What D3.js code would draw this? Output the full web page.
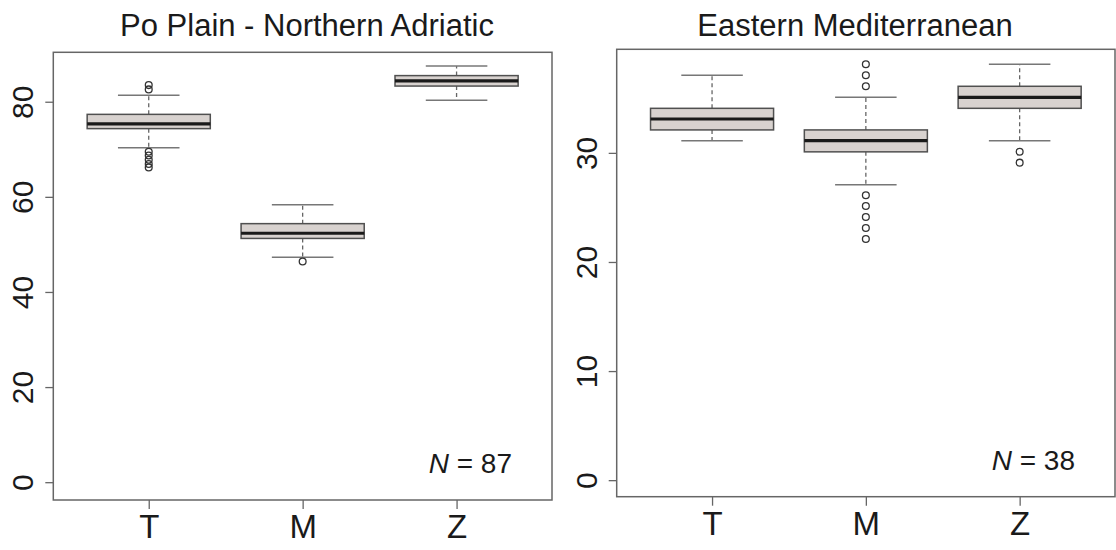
<!DOCTYPE html>
<html>
<head>
<meta charset="utf-8">
<script src="https://cdn.jsdelivr.net/npm/d3@7"></script>
<style>
  body { margin: 0; background: #fff; }
  svg { font-family: "Liberation Sans", Arial, sans-serif; }
</style>
</head>
<body>
<div id="chart"></div>
<script>
// categories and box statistics: [lower whisker, q1, median, q3, upper whisker]
const categories = ['T', 'M', 'Z'];

const poStats = [
  [70.45, 74.45, 75.44, 77.45, 81.47],
  [47.4, 51.36, 52.45, 54.47, 58.46],
  [80.4, 83.4, 84.5, 85.6, 87.6]
];
const poOutliers = [
  [83.6, 82.7, 69.6, 68.8, 67.9, 67.0, 66.3],
  [46.5],
  []
];
const poTicks = [0, 20, 40, 60, 80];

const emStats = [
  [31.16, 32.15, 33.15, 34.13, 37.16],
  [27.13, 30.14, 31.16, 32.15, 35.14],
  [31.16, 34.13, 35.14, 36.15, 38.17]
];
const emOutliers = [
  [],
  [38.17, 37.16, 36.15, 26.16, 25.18, 24.17, 23.16, 22.15],
  [30.15, 29.15]
];
const emTicks = [0, 10, 20, 30];

const panels = [
  { title: 'Po Plain - Northern Adriatic', titleX: 307, n: 87,
    stats: poStats, outliers: poOutliers, ticks: poTicks,
    yDomain: [-3.64, 90.5], x0: 53.3, x1: 552, y0: 52.3, y1: 500 },
  { title: 'Eastern Mediterranean', titleX: 855, n: 38,
    stats: emStats, outliers: emOutliers, ticks: emTicks,
    yDomain: [-1.47, 39.54], x0: 616.7, x1: 1115, y0: 49.3, y1: 496.7 }
];

const svg = d3.select('#chart').append('svg')
  .attr('width', 1116)
  .attr('height', 550);

panels.forEach(p => {
  let g = svg.append('g');

  let x = d3.scaleLinear().domain([0.38, 3.62]).range([p.x0, p.x1]);
  let y = d3.scaleLinear().domain(p.yDomain).range([p.y1, p.y0]);
  let unit = x(1) - x(0);

  // title
  g.append('text')
    .attr('x', p.titleX)
    .attr('y', 36)
    .attr('text-anchor', 'middle')
    .style('font-size', '31px')
    .style('fill', '#1a1a1a')
    .text(p.title);

  // y axis, labels rotated like R's default
  let yAxis = g.append('g')
    .attr('transform', `translate(${p.x0},0)`)
    .call(d3.axisLeft(y).tickValues(p.ticks).tickSize(8));
  yAxis.select('.domain').remove();
  yAxis.selectAll('.tick').attr('transform', null);
  yAxis.selectAll('.tick line')
    .attr('y1', d => y(d)).attr('y2', d => y(d))
    .attr('stroke', '#666').attr('stroke-width', 1.3);
  yAxis.selectAll('.tick text')
    .attr('x', -20)
    .attr('y', d => y(d))
    .attr('dy', 0)
    .attr('transform', d => `rotate(-90, -20, ${y(d)})`)
    .attr('text-anchor', 'middle')
    .style('font-size', '30px')
    .style('fill', '#1a1a1a');

  // x axis
  let xAxis = g.append('g')
    .attr('transform', `translate(0,${p.y1})`)
    .call(d3.axisBottom(x).tickValues([1, 2, 3])
      .tickFormat(d => categories[d - 1]).tickSize(9).tickPadding(6));
  xAxis.select('.domain').remove();
  xAxis.selectAll('line').attr('stroke', '#666').attr('stroke-width', 1.3);
  xAxis.selectAll('text')
    .attr('dy', '0.71em')
    .style('font-size', '33px')
    .style('fill', '#1a1a1a');

  // boxes
  p.stats.forEach((s, i) => {
    let cx = x(i + 1);
    let box = g.append('g');

    // whiskers (dashed)
    [[s[3], s[4]], [s[1], s[0]]].forEach(w => {
      box.append('line')
        .attr('x1', cx).attr('x2', cx)
        .attr('y1', y(w[0])).attr('y2', y(w[1]))
        .attr('stroke', '#666').attr('stroke-width', 1.3)
        .attr('stroke-dasharray', '4,3');
    });

    // staples
    [s[0], s[4]].forEach(v => {
      box.append('line')
        .attr('x1', cx - 0.2 * unit).attr('x2', cx + 0.2 * unit)
        .attr('y1', y(v)).attr('y2', y(v))
        .attr('stroke', '#777').attr('stroke-width', 1.5);
    });

    box.append('rect')
      .attr('x', cx - 0.4 * unit)
      .attr('width', 0.8 * unit)
      .attr('y', y(s[3]))
      .attr('height', y(s[1]) - y(s[3]))
      .attr('fill', '#d8d2cf')
      .attr('stroke', '#505050')
      .attr('stroke-width', 1.5);

    box.append('line')
      .attr('x1', cx - 0.4 * unit).attr('x2', cx + 0.4 * unit)
      .attr('y1', y(s[2])).attr('y2', y(s[2]))
      .attr('stroke', '#1a1a1a').attr('stroke-width', 3.2);

    box.selectAll('circle')
      .data(p.outliers[i])
      .enter().append('circle')
      .attr('cx', cx)
      .attr('cy', d => y(d))
      .attr('r', 3.4)
      .attr('fill', 'none')
      .attr('stroke', '#333')
      .attr('stroke-width', 1.3);
  });

  // plot frame
  g.append('rect')
    .attr('x', p.x0).attr('y', p.y0)
    .attr('width', p.x1 - p.x0).attr('height', p.y1 - p.y0)
    .attr('fill', 'none')
    .attr('stroke', '#666')
    .attr('stroke-width', 1.5);

  // sample size
  let nText = g.append('text')
    .attr('x', p.x1 - 40)
    .attr('y', p.y1 - 27)
    .attr('text-anchor', 'end')
    .style('font-size', '28px')
    .style('fill', '#1a1a1a');
  nText.append('tspan').style('font-style', 'italic').text('N');
  nText.append('tspan').text(' = ' + p.n);
});
</script>
</body>
</html>
